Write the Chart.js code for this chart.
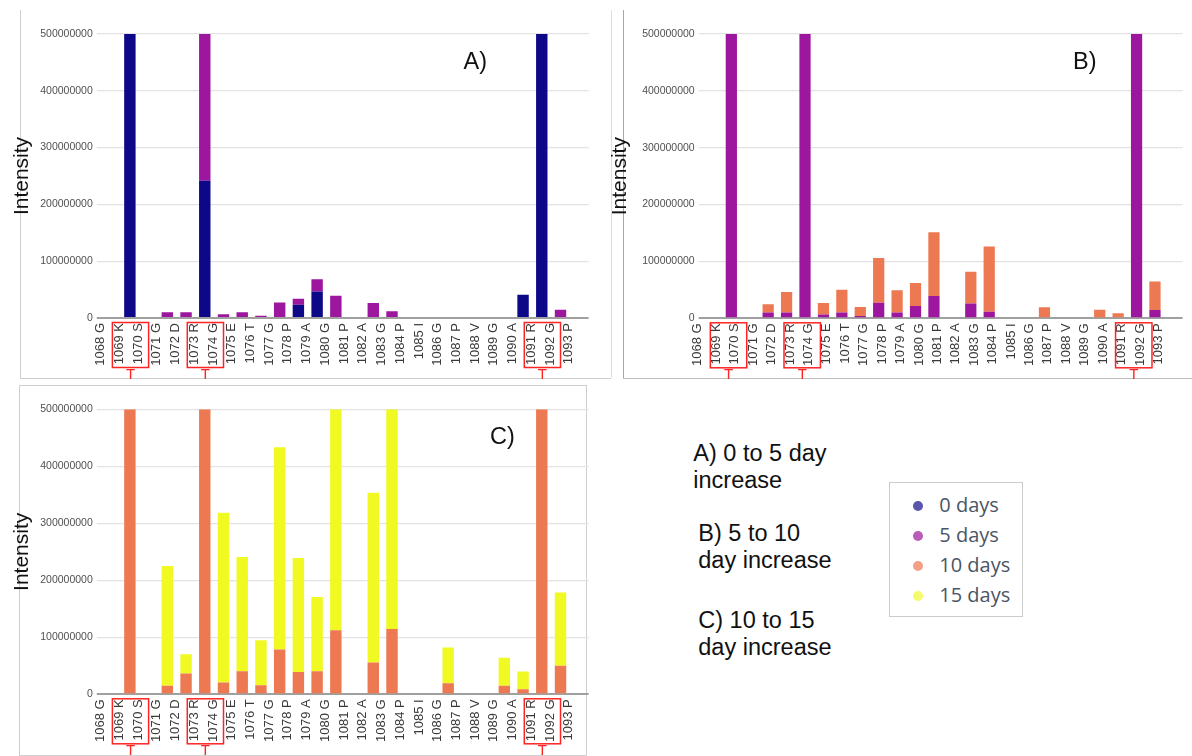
<!DOCTYPE html>
<html><head><meta charset="utf-8">
<script src="https://cdn.jsdelivr.net/npm/chart.js@4.4.1/dist/chart.umd.min.js"></script>
<style>
html,body{margin:0;padding:0;background:#fff;width:1192px;height:756px;overflow:hidden;position:relative;font-family:"Liberation Sans",Arial,sans-serif;}
canvas{position:absolute;}
.ln{position:absolute;background:#cfcfcf;}
.note{position:absolute;font-size:23.5px;line-height:26.5px;color:#111;white-space:nowrap;}
.tag{position:absolute;font-size:23.5px;line-height:26.5px;color:#111;white-space:nowrap;}
#legend{position:absolute;left:889px;top:482px;width:134px;height:135px;border:1px solid #cccccc;box-sizing:border-box;}
.dot{position:absolute;width:10px;height:10px;border-radius:50%;}
.lt{position:absolute;font-family:"Open Sans",sans-serif;font-size:20px;line-height:30px;color:#4b5566;white-space:nowrap;}
</style></head><body>
<!-- panel frames -->
<div class="ln" style="left:20px;top:10px;width:1px;height:368px;"></div>
<div class="ln" style="left:20px;top:378px;width:591px;height:1px;"></div>
<div class="ln" style="left:611px;top:10px;width:1px;height:368px;background:#dedede;"></div>
<div class="ln" style="left:623px;top:10px;width:1px;height:368px;background:#a8a8a8;"></div>
<div class="ln" style="left:623px;top:378px;width:569px;height:1px;background:#bdbdbd;"></div>
<div class="ln" style="left:19px;top:385px;width:567px;height:1px;"></div>
<div class="ln" style="left:19px;top:385px;width:1px;height:370px;"></div>
<div class="ln" style="left:586px;top:385px;width:1px;height:370px;"></div>
<div class="ln" style="left:19px;top:755px;width:568px;height:1px;"></div>

<div id="legend"></div>

<canvas id="cA" width="600" height="386" style="left:0;top:0;"></canvas>
<canvas id="cB" width="594" height="386" style="left:600px;top:0;"></canvas>
<canvas id="cC" width="600" height="376" style="left:0;top:380px;"></canvas>

<div class="tag" style="left:463.6px;top:48px;">A)</div>
<div class="tag" style="left:1073px;top:48px;">B)</div>
<div class="tag" style="left:490px;top:423px;">C)</div>

<div class="note" style="left:693.3px;top:440.4px;">A) 0 to 5 day<br>increase</div>
<div class="note" style="left:698.3px;top:520.4px;">B) 5 to 10<br>day increase</div>
<div class="note" style="left:698.3px;top:607.1px;">C) 10 to 15<br>day increase</div>

<script>
const categories = ['1068 G','1069 K','1070 S','1071 G','1072 D','1073 R','1074 G','1075 E','1076 T','1077 G','1078 P','1079 A','1080 G','1081 P','1082 A','1083 G','1084 P','1085 I','1086 G','1087 P','1088 V','1089 G','1090 A','1091 R','1092 G','1093 P'];
const days0  = [0, 500000000, 0, 0, 0, 241500000, 0, 0, 0, 0, 23400000, 46800000, 0, 0, 0, 0, 0, 0, 0, 0, 0, 0, 41000000, 500000000, 0, 0];
const days5  = [0, 500000000, 0, 10000000, 10000000, 500000000, 6500000, 10000000, 4000000, 27500000, 10300000, 21600000, 39100000, 0, 26200000, 11700000, 0, 0, 0, 0, 0, 0, 0, 500000000, 14600000, 0];
const days10 = [0, 500000000, 0, 14800000, 36400000, 500000000, 20500000, 40300000, 15800000, 78400000, 39100000, 40300000, 112300000, 0, 55800000, 114600000, 0, 0, 19300000, 0, 0, 14900000, 8800000, 500000000, 50000000, 0];
const days15 = [0, 0, 0, 210500000, 34000000, 0, 298200000, 200600000, 78900000, 354900000, 200000000, 130400000, 387700000, 0, 297700000, 385400000, 0, 0, 62600000, 0, 0, 49100000, 31000000, 0, 128700000, 0];
const seriesNames = ['0 days','5 days','10 days','15 days'];
const seriesColors = ['#0d0887','#9c179e','#ed7953','#f0f921'];
const legendDotColors = ['#5a56ab','#b95cba','#f2a187','#f5fb6b'];
const yTicks = [0, 100000000, 200000000, 300000000, 400000000, 500000000];
const boxedPairs = [['1069 K','1070 S'],['1073 R','1074 G'],['1091 R','1092 G']];
const yTitle = 'Intensity';

// legend (HTML)
seriesNames.forEach((n, i) => {
  const cy = 505.7 + 30 * i;
  const d = document.createElement('div');
  d.className = 'dot';
  d.style.left = (918.3 - 5) + 'px'; d.style.top = (cy - 5) + 'px';
  d.style.background = legendDotColors[i];
  document.body.appendChild(d);
  const t = document.createElement('div');
  t.className = 'lt';
  t.style.left = '939.3px'; t.style.top = (cy - 15.5) + 'px';
  t.textContent = n;
  document.body.appendChild(t);
});

const boxPlugin = {
  id: 'boxes',
  afterDraw(chart, args, opts) {
    const {ctx, chartArea} = chart; const xs = chart.scales.x;
    ctx.save();
    ctx.strokeStyle = '#ff2323'; ctx.lineWidth = 1.5;
    ctx.fillStyle = '#ff2323';
    ctx.font = '15px "Liberation Sans", Arial';
    ctx.textAlign = 'center'; ctx.textBaseline = 'top';
    boxedPairs.forEach(([a, b]) => {
      const x1 = xs.getPixelForValue(categories.indexOf(a)) + opts.left;
      const x2 = xs.getPixelForValue(categories.indexOf(b)) + opts.right;
      const y1 = chartArea.bottom + 4.5, y2 = chartArea.bottom + 49.5;
      ctx.strokeRect(x1, y1, x2 - x1, y2 - y1);
      ctx.fillText('T', (x1 + x2) / 2, chartArea.bottom + 49.5);
    });
    ctx.restore();
  }
};

function makeChart(id, lower, upper, p) {
  new Chart(document.getElementById(id), {
    type: 'bar',
    data: {
      labels: categories,
      datasets: [
        {label: seriesNames[lower.idx], data: lower.data, backgroundColor: seriesColors[lower.idx], borderWidth: 0, clip: 0},
        {label: seriesNames[upper.idx], data: upper.data, backgroundColor: seriesColors[upper.idx], borderWidth: 0, clip: 0}
      ]
    },
    options: {
      responsive: false, animation: false, devicePixelRatio: 1,
      layout: {padding: {top: p.top, right: p.right, left: 0, bottom: 0}},
      datasets: {bar: {barPercentage: 0.61, categoryPercentage: 1}},
      plugins: {legend: {display: false}, tooltip: {enabled: false}, boxes: p.box},
      scales: {
        x: {
          stacked: true,
          grid: {display: false, drawTicks: false},
          border: {display: false},
          ticks: {autoSkip: false, maxRotation: 90, minRotation: 90, padding: 5, labelOffset: p.lo,
                  color: '#3a3a3a', font: {family: '"Liberation Sans", Arial', size: 13}},
          afterFit: s => { s.height = p.xh; }
        },
        y: {
          stacked: true, min: 0, max: 500000000,
          afterBuildTicks: s => { s.ticks = yTicks.map(v => ({value: v})); },
          grid: {
            color: c => (c.tick && c.tick.value === 0) ? '#a0a0a0' : '#e3e3e3',
            lineWidth: c => (c.tick && c.tick.value === 0) ? 2 : 1.3,
            tickLength: 5, drawTicks: true
          },
          border: {display: false},
          ticks: {padding: 4, color: '#505050', font: {family: '"Liberation Sans", Arial', size: 10.5},
                  callback: v => String(v)},
          title: {display: true, text: yTitle, color: '#111', font: {family: '"Liberation Sans", Arial', size: 21},
                  padding: {top: p.tp, bottom: 0}},
          afterFit: s => { s.width = p.yw; }
        }
      }
    },
    plugins: [boxPlugin]
  });
}

makeChart('cA', {idx: 0, data: days0}, {idx: 1, data: days5},
  {top: 34, right: 8.7, yw: 101.8, xh: 68, tp: 9.4, lo: -10.5, box: {left: -17.5, right: 0}});
makeChart('cB', {idx: 1, data: days5}, {idx: 2, data: days10},
  {top: 34, right: 0, yw: 103.7, xh: 67.7, tp: 7.4, lo: -15, box: {left: -21, right: -3}});
makeChart('cC', {idx: 2, data: days10}, {idx: 3, data: days15},
  {top: 29.3, right: 8.7, yw: 101.8, xh: 61.7, tp: 9.4, lo: -10.5, box: {left: -17.5, right: 0}});
</script>
</body></html>
